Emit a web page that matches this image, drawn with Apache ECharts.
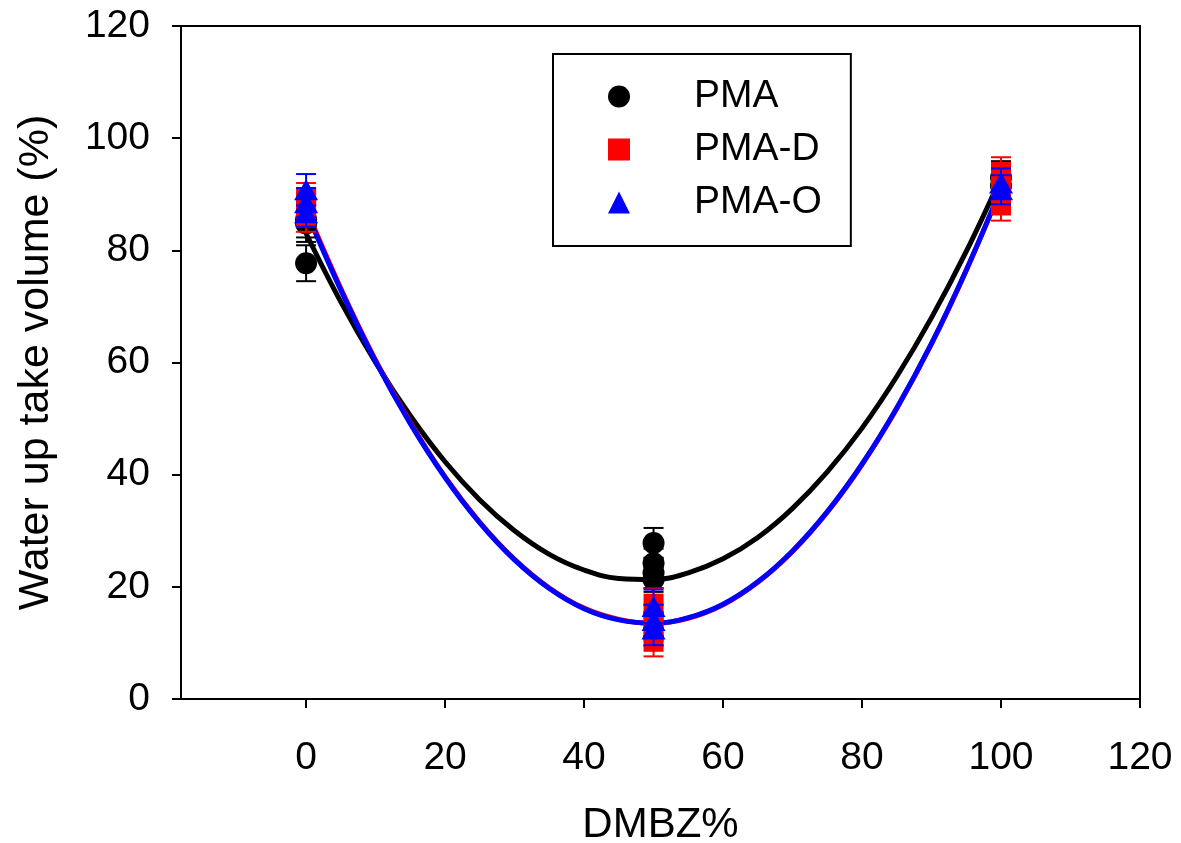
<!DOCTYPE html>
<html>
<head>
<meta charset="utf-8">
<script src="https://cdn.jsdelivr.net/npm/echarts@6/dist/echarts.min.js"></script>
<style>
html,body{margin:0;padding:0;background:#fff;}
#chart{width:1181px;height:843px;}
</style>
</head>
<body>
<div id="chart"></div>
<script>
// ---- data ----
const xTicks = [0, 20, 40, 60, 80, 100, 120];
const yTicks = [0, 20, 40, 60, 80, 100, 120];

// measured points (replicates) : x, y, error
const pmaX   = [0, 0, 0, 50, 50, 50, 50, 100, 100];
const pmaY   = [77.7, 85.5, 84.8, 27.8, 24.2, 22.5, 21.3, 93.0, 91.5];
const pmaErr = [3.2, 3.2, 3.3, 2.7, 2.6, 2.7, 2.2, 2.9, 2.8];

const pmaDX   = [0, 0, 0, 50, 50, 50, 50, 100, 100, 100];
const pmaDY   = [89.5, 87.5, 85.8, 17.0, 14.0, 12.0, 10.2, 94.0, 91.0, 88.0];
const pmaDErr = [2.5, 2.6, 2.5, 2.7, 2.8, 2.6, 2.6, 2.6, 2.8, 2.7];

const pmaOX   = [0, 0, 0, 50, 50, 50, 100, 100];
const pmaOY   = [90.8, 88.5, 86.7, 16.5, 14.0, 12.5, 92.0, 90.8];
const pmaOErr = [2.8, 2.6, 2.5, 3.0, 2.8, 2.9, 2.6, 2.6];

// fitted curves
const fitX     = [0, 5, 10, 15, 20, 25, 30, 35, 40, 45, 50, 55, 60, 65, 70, 75, 80, 85, 90, 95, 100];
const pmaFit   = [83.0, 70.8, 60.0, 50.5, 42.3, 35.5, 30.0, 25.8, 23.0, 21.5, 21.3, 22.5, 25.0, 28.8, 34.0, 40.5, 48.3, 57.5, 68.0, 79.8, 93.0];
const pmaDFit  = [87.4, 73.2, 60.4, 49.3, 39.6, 31.5, 24.9, 19.8, 16.2, 14.2, 13.5, 14.4, 16.8, 20.8, 26.3, 33.3, 41.8, 51.8, 63.3, 76.4, 91.0];
const pmaOFit  = [87.0, 72.9, 60.2, 49.1, 39.5, 31.4, 24.8, 19.7, 16.1, 14.1, 13.5, 14.5, 16.9, 20.9, 26.4, 33.4, 41.9, 51.9, 63.4, 76.5, 91.0];

const names  = ['PMA', 'PMA-D', 'PMA-O'];
const colors = ['#000000', '#ff0000', '#0000ff'];
const symbols = ['circle', 'rect', 'triangle'];

// ---- build ----
const FONT = 'Liberation Sans, Arial, sans-serif';
function zip3(xs, ys, es) { return xs.map((x, i) => [x, ys[i], es[i]]); }
function zip2(xs, ys) { return xs.map((x, i) => [x, ys[i]]); }

const pointSets = [zip3(pmaX, pmaY, pmaErr), zip3(pmaDX, pmaDY, pmaDErr), zip3(pmaOX, pmaOY, pmaOErr)];
const fitSets = [pmaFit, pmaDFit, pmaOFit];
const symSizes = [22, 20, [24, 21]];

function errRender(color) {
  return function (params, api) {
    const x = api.value(0), y = api.value(1), e = api.value(2);
    const top = api.coord([x, y + e]);
    const bot = api.coord([x, y - e]);
    const half = 10;
    const st = { stroke: color, lineWidth: 2 };
    return {
      type: 'group',
      children: [
        { type: 'line', shape: { x1: top[0], y1: top[1], x2: bot[0], y2: bot[1] }, style: st },
        { type: 'line', shape: { x1: top[0] - half, y1: top[1], x2: top[0] + half, y2: top[1] }, style: st },
        { type: 'line', shape: { x1: bot[0] - half, y1: bot[1], x2: bot[0] + half, y2: bot[1] }, style: st }
      ]
    };
  };
}

const series = [];
for (let i = 0; i < 3; i++) {
  series.push({
    name: names[i] + ' fit', type: 'line', data: zip2(fitX, fitSets[i]),
    smooth: 0.4, showSymbol: false, symbol: 'none',
    lineStyle: { color: colors[i], width: 5 }, z: 2 + i, silent: true
  });
}
for (let i = 0; i < 3; i++) {
  series.push({
    name: names[i] + ' err', type: 'custom', data: pointSets[i],
    renderItem: errRender(colors[i]), z: 10 + i * 2, silent: true
  });
  series.push({
    name: names[i], type: 'scatter', data: pointSets[i].map(p => [p[0], p[1]]),
    symbol: symbols[i], symbolSize: symSizes[i],
    itemStyle: { color: colors[i], opacity: 1 }, z: 11 + i * 2
  });
}

const chart = echarts.init(document.getElementById('chart'), null, { renderer: 'canvas' });
chart.setOption({
  animation: false,
  backgroundColor: '#ffffff',
  grid: { left: 181, right: 41, top: 26, bottom: 144, outerBoundsMode: 'none', containLabel: false,
          show: true, borderColor: '#000', borderWidth: 2, backgroundColor: 'transparent' },
  legend: {
    data: names.map((n, i) => ({ name: n, icon: symbols[i] })),
    orient: 'vertical', left: 553, top: 54,
    padding: [23, 29, 24, 55],
    borderColor: '#000', borderWidth: 2,
    itemWidth: 22, itemHeight: 22, itemGap: 14,
    textStyle: { fontSize: 39, fontFamily: FONT, color: '#000', padding: [0, 0, 0, 59] }
  },
  xAxis: {
    type: 'value', min: -18, max: 120,
    name: 'DMBZ%', nameLocation: 'middle', nameGap: 105,
    nameTextStyle: { fontSize: 42, fontFamily: FONT, color: '#000' },
    axisLine: { show: true, onZero: false, lineStyle: { color: '#000', width: 2 } },
    axisTick: { show: true, length: 9, lineStyle: { color: '#000', width: 2 }, customValues: xTicks },
    axisLabel: { fontSize: 39, fontFamily: FONT, color: '#000', margin: 40, customValues: xTicks },
    splitLine: { show: false }
  },
  yAxis: {
    type: 'value', min: 0, max: 120, interval: 20,
    name: 'Water up take volume (%)', nameLocation: 'middle', nameGap: 123,
    nameTextStyle: { fontSize: 43, fontFamily: FONT, color: '#000' },
    axisLine: { show: true, onZero: false, lineStyle: { color: '#000', width: 2 } },
    axisTick: { show: true, length: 9, lineStyle: { color: '#000', width: 2 }, customValues: yTicks },
    axisLabel: { fontSize: 39, fontFamily: FONT, color: '#000', margin: 31, customValues: yTicks },
    splitLine: { show: false }
  },
  series: series
});
</script>
</body>
</html>
